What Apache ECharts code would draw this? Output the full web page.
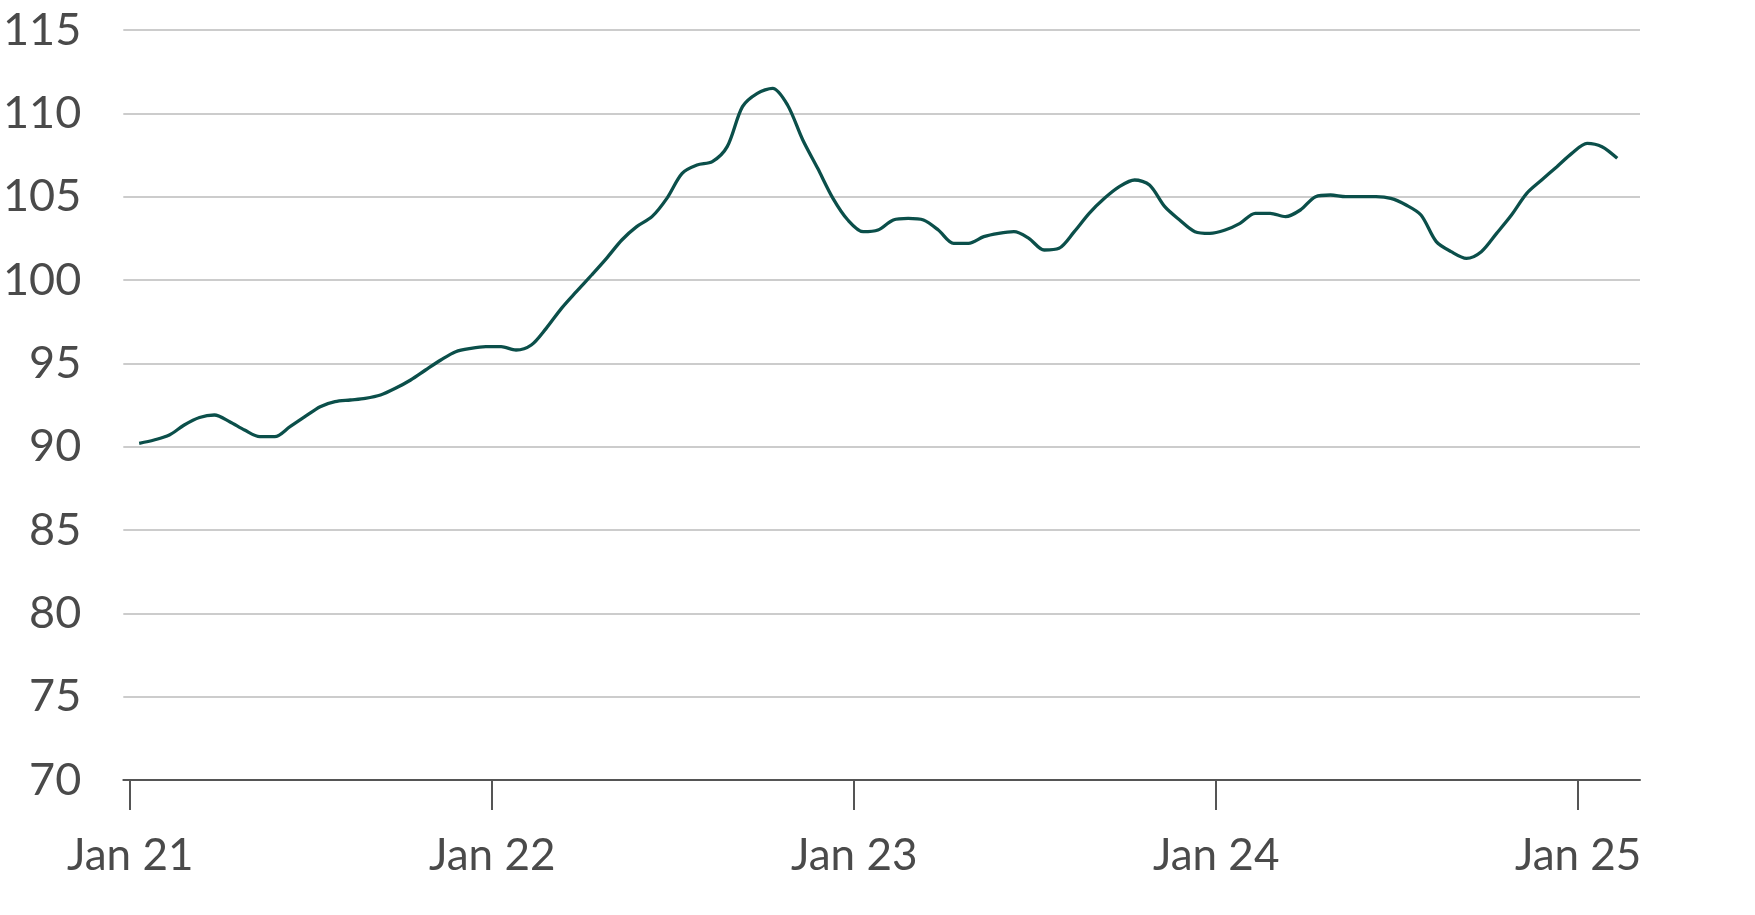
<!DOCTYPE html>
<html>
<head>
<meta charset="utf-8">
<script src="https://cdn.jsdelivr.net/npm/echarts@6/dist/echarts.min.js"></script>
<style>
  html, body { margin: 0; padding: 0; background: #fff; }
  #chart { width: 1755px; height: 915px; }
</style>
</head>
<body>
<div id="chart"></div>
<script>
// index level, two readings per month (10th and 25th), Jan 2021 - Feb 2025
var values = [
  90.2, 90.4, 90.7, 91.3, 91.75, 91.9, 91.5, 91.0, 90.6, 90.6, 91.2, 91.8,
  92.4, 92.7, 92.8, 92.9, 93.1, 93.5, 94.0, 94.6, 95.2, 95.7, 95.9, 96.0,
  96.0, 95.8, 96.1, 97.1, 98.3, 99.3, 100.3, 101.3, 102.4, 103.2, 103.8, 104.9,
  106.4, 106.9, 107.1, 108.0, 110.4, 111.2, 111.5, 110.5, 108.4, 106.7, 104.9, 103.6,
  102.9, 103.0, 103.6, 103.7, 103.6, 103.0, 102.2, 102.2, 102.6, 102.8, 102.9, 102.5,
  101.8, 101.9, 102.9, 104.0, 104.9, 105.6, 106.0, 105.7, 104.4, 103.6, 102.9, 102.8,
  103.0, 103.4, 104.0, 104.0, 103.8, 104.2, 105.0, 105.1, 105.0, 105.0, 105.0, 104.9,
  104.5, 103.9, 102.3, 101.7, 101.3, 101.7, 102.8, 103.9, 105.2, 106.0, 106.8, 107.6,
  108.2, 108.0, 107.3
];
var startYear = 2021;
var readingDays = [10, 25];
var yTicks = [70, 75, 80, 85, 90, 95, 100, 105, 110, 115];
var xTickYears = [2021, 2022, 2023, 2024, 2025];

// x measured in months since Jan 1 2021
var data = values.map(function (v, i) {
  var month = Math.floor(i / 2);
  return [month + (readingDays[i % 2] - 1) / 30.4, v];
});

var tickMonths = xTickYears.map(function (y) { return (y - startYear) * 12; });

var chart = echarts.init(document.getElementById('chart'));
chart.setOption({
  animation: false,
  grid: { left: 122, right: 115, top: 30, bottom: 135, containLabel: false },
  xAxis: {
    type: 'value',
    min: -0.23,
    max: 50.05,
    axisLine: { lineStyle: { color: '#555555', width: 2 } },
    axisTick: {
      show: true, length: 30, lineStyle: { color: '#555555', width: 2 },
      customValues: tickMonths
    },
    axisLabel: {
      customValues: tickMonths,
      margin: 54,
      fontFamily: 'Lato',
      fontSize: 44,
      color: '#4a4a4a',
      formatter: function (val) {
        var yr = startYear + Math.round(val / 12);
        return 'Jan ' + String(yr).slice(2);
      }
    },
    splitLine: { show: false }
  },
  yAxis: {
    type: 'value',
    min: 70,
    max: 115,
    interval: 5,
    axisLine: { show: false },
    axisTick: { show: false },
    axisLabel: {
      margin: 42,
      fontFamily: 'Lato',
      fontSize: 45,
      color: '#4a4a4a',
      formatter: function (v) { return yTicks.indexOf(v) >= 0 ? String(v) : ''; }
    },
    splitLine: { lineStyle: { color: '#cccccc', width: 2 } }
  },
  series: [{
    type: 'line',
    data: data,
    showSymbol: false,
    smooth: 0.3,
    lineStyle: { color: '#0b4f4a', width: 3.3 }
  }]
});
</script>
</body>
</html>
